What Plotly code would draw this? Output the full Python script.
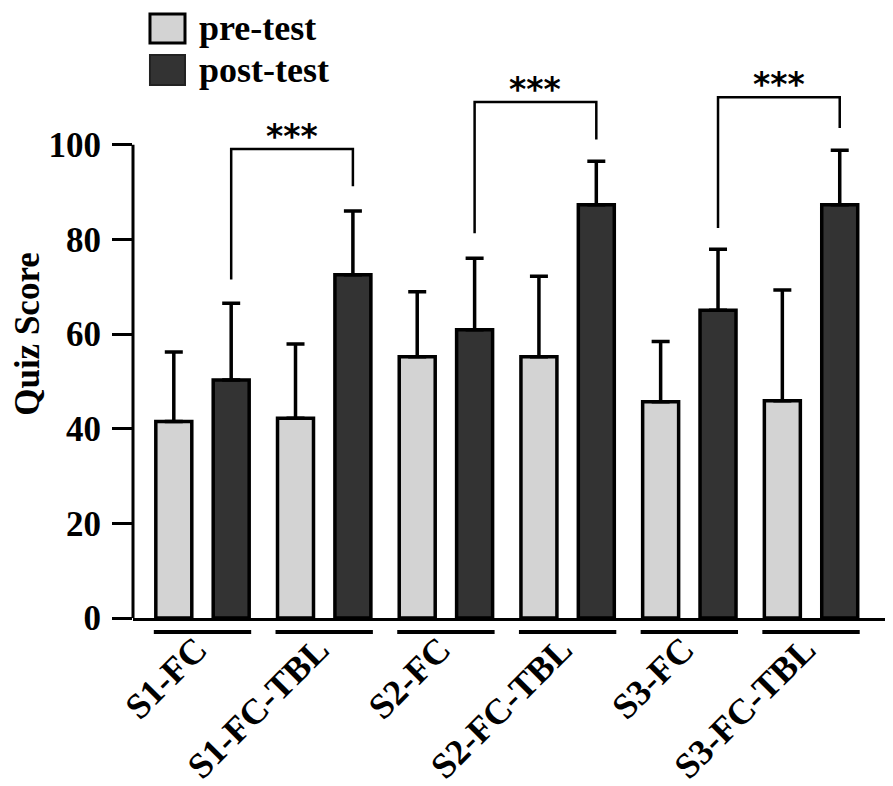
import plotly.graph_objects as go

# ---- data ----
categories = ["S1-FC", "S1-FC-TBL", "S2-FC", "S2-FC-TBL", "S3-FC", "S3-FC-TBL"]
pre_mean = [41.5, 42.2, 55.2, 55.2, 45.7, 45.9]
pre_sd = [14.7, 15.7, 13.7, 17.0, 12.7, 23.4]
post_mean = [50.3, 72.5, 60.9, 87.3, 65.0, 87.3]
post_sd = [16.2, 13.5, 15.1, 9.2, 12.9, 11.5]
y_ticks = [0, 20, 40, 60, 80, 100]

# significance brackets: (left group, right group) comparing post-test bars
sig_pairs = [(0, 1), (2, 3), (4, 5)]
sig_bracket_y = [99.1, 109.0, 110.0]
sig_left_leg = [71.5, 81.3, 82.4]
sig_right_leg = [91.2, 101.1, 103.5]
sig_labels = ["***", "***", "***"]

# ---- style ----
FONT = "Liberation Serif"
PRE_COLOR = "#d3d3d3"
POST_COLOR = "#333333"
BARGAP = 0.057
BARGROUPGAP = 0.373
post_offset = (1 - BARGAP) / 4.0

fig = go.Figure()
fig.add_trace(go.Bar(
    name="pre-test", x=categories, y=pre_mean,
    marker=dict(color=PRE_COLOR, line=dict(color="black", width=3.5)),
    error_y=dict(type="data", array=pre_sd, arrayminus=[0] * len(pre_sd),
                 symmetric=False, color="black", thickness=3.5, width=9),
))
fig.add_trace(go.Bar(
    name="post-test", x=categories, y=post_mean,
    marker=dict(color=POST_COLOR, line=dict(color="black", width=3.5)),
    error_y=dict(type="data", array=post_sd, arrayminus=[0] * len(post_sd),
                 symmetric=False, color="black", thickness=3.5, width=9),
))

shapes = []
annotations = []

# y axis line only from 0 to 100
shapes.append(dict(type="line", xref="paper", yref="y", x0=0, x1=0,
                   y0=y_ticks[0], y1=y_ticks[-1], line=dict(color="black", width=3)))

# group underlines below the x axis
for i in range(len(categories)):
    shapes.append(dict(type="line", xref="x", yref="paper", x0=i - 0.40, x1=i + 0.40,
                       y0=-0.0246, y1=-0.0246, line=dict(color="black", width=4)))

# significance brackets
for (a, b), yb, yl, yr, lab in zip(sig_pairs, sig_bracket_y, sig_left_leg, sig_right_leg, sig_labels):
    xa = a + post_offset
    xb = b + post_offset
    shapes.append(dict(type="path", xref="x", yref="y",
                       path=f"M {xa},{yl} L {xa},{yb} L {xb},{yb} L {xb},{yr}",
                       line=dict(color="black", width=2.5)))
    annotations.append(dict(x=(xa + xb) / 2, y=yb, xref="x", yref="y", text=lab,
                            showarrow=False, yanchor="bottom", yshift=-9,
                            font=dict(family="DejaVu Sans", size=33, color="black", weight="bold")))

# custom legend
shapes.append(dict(type="rect", xref="paper", yref="paper", x0=0.0224, x1=0.0686,
                   y0=1.0123, y1=1.0634, fillcolor=PRE_COLOR, line=dict(color="black", width=3)))
shapes.append(dict(type="rect", xref="paper", yref="paper", x0=0.0224, x1=0.0686,
                   y0=0.9384, y1=0.9912, fillcolor=POST_COLOR, line=dict(color="#222222", width=2)))
annotations.append(dict(x=0.0858, y=1.0387, xref="paper", yref="paper", text="pre-test",
                        showarrow=False, xanchor="left", yanchor="middle", borderpad=0,
                        font=dict(family=FONT, size=36, color="black", weight="bold")))
annotations.append(dict(x=0.0858, y=0.9648, xref="paper", yref="paper", text="post-test",
                        showarrow=False, xanchor="left", yanchor="middle", borderpad=0,
                        font=dict(family=FONT, size=36, color="black", weight="bold")))

fig.update_layout(
    width=893, height=786,
    margin=dict(l=125, r=10, t=42, b=176),
    paper_bgcolor="white", plot_bgcolor="white",
    barmode="group", bargap=BARGAP, bargroupgap=BARGROUPGAP,
    showlegend=False,
    shapes=shapes, annotations=annotations,
    xaxis=dict(
        type="category", range=[-0.571, 5.657], automargin=False,
        showline=True, linecolor="black", linewidth=3,
        ticks="", tickangle=-45, ticklabelstandoff=-7, ticklabelshift=-6,
        tickfont=dict(family=FONT, size=36, color="black", weight="bold"),
        showgrid=False, zeroline=False,
    ),
    yaxis=dict(
        range=[0, 120], tickvals=y_ticks, ticktext=[str(v) for v in y_ticks],
        automargin=False,
        showline=False, ticks="outside", ticklen=20, tickwidth=3, tickcolor="black",
        ticklabelstandoff=4,
        tickfont=dict(family=FONT, size=35, color="black", weight="bold"),
        showgrid=False, zeroline=False,
        title=dict(text="Quiz Score", standoff=8,
                   font=dict(family=FONT, size=35, color="black", weight="bold")),
    ),
)

fig.write_html("out.html")
